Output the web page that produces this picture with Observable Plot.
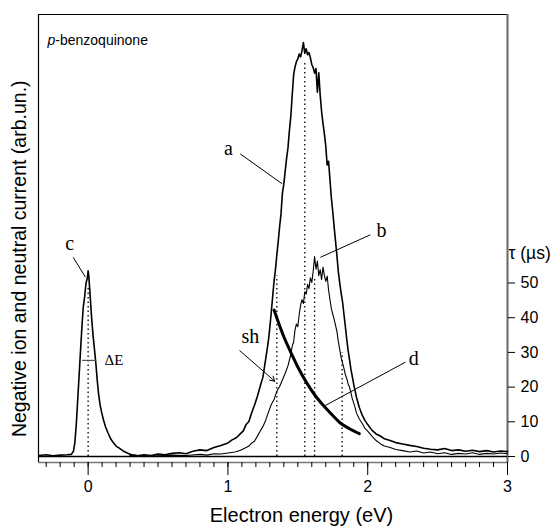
<!DOCTYPE html>
<html><head><meta charset="utf-8">
<script src="https://cdn.jsdelivr.net/npm/d3@7"></script>
<script src="https://cdn.jsdelivr.net/npm/@observablehq/plot@0.6"></script>
<style>body{margin:0;background:#fff}</style>
</head><body><div id="chart"></div>
<script>
// curve c (electron beam profile, arb. units)
const cE = [-0.35,-0.3,-0.25,-0.2,-0.15,-0.12,-0.105,-0.095,-0.085,-0.075,-0.065,-0.055,-0.045,-0.035,-0.025,-0.015,-0.005,0.0,0.005,0.015,0.025,0.035,0.045,0.055,0.065,0.075,0.085,0.095,0.11,0.125,0.14,0.16,0.18,0.2,0.22,0.25,0.28,0.31,0.35,0.4,0.5];
const cV = [0.3,0.5,0.2,0.4,0.5,0.6,1.5,4,9,16,23,30,37,43,46,50,51.5,53.5,52,46,40,35,31,27,22,18,15,13,10.5,8.5,7,5.2,4,3,2.5,1.6,1,0.5,0.3,0.2,0.1];
// curve a (negative ion current)
const aE = [0.30,0.35,0.40,0.45,0.50,0.55,0.60,0.65,0.70,0.75,0.80,0.85,0.90,0.95,1.00,1.03,1.06,1.09,1.11,1.13,1.15,1.17,1.19,1.21,1.23,1.25,1.27,1.29,1.30,1.31,1.32,1.33,1.34,1.35,1.36,1.37,1.38,1.39,1.40,1.41,1.42,1.43,1.44,1.45,1.46,1.47,1.48,1.49,1.50,1.51,1.52,1.53,1.54,1.55,1.56,1.57,1.58,1.59,1.60,1.61,1.62,1.63,1.64,1.65,1.66,1.67,1.68,1.69,1.70,1.71,1.72,1.73,1.74,1.75,1.76,1.77,1.78,1.79,1.80,1.81,1.82,1.83,1.84,1.85,1.86,1.87,1.88,1.89,1.90,1.92,1.94,1.96,1.98,2.00,2.03,2.06,2.09,2.12,2.16,2.20,2.25,2.30,2.35,2.40,2.45,2.50,2.55,2.60,2.65,2.70,2.75,2.80,2.85,2.90,2.95,3.00];
const aV = [0.4,0.2,0.5,0.3,0.7,0.5,0.9,1.1,0.8,1.5,1.9,1.7,2.6,3.2,3.9,4.8,5.4,6.6,7.4,9.2,10.1,12.6,14.8,17.2,20.1,22.8,28.1,33.5,37.2,41.5,46.0,50.5,53.8,58.2,62.0,66.3,70.0,76.0,78.5,82.4,86.0,89.1,94.0,98.1,104.2,110.0,112.3,113.8,114.6,116.0,115.2,117.0,119.3,116.2,117.5,115.8,116.4,114.9,113.0,112.1,110.5,111.8,105.0,110.6,104.2,99.5,96.0,93.0,89.5,84.0,85.1,79.8,74.5,70.6,66.1,62.0,57.8,53.2,50.0,47.1,44.6,41.0,37.5,33.8,30.5,27.9,25.1,23.0,20.8,17.0,14.1,12.0,10.4,9.2,7.6,6.5,5.9,5.1,4.6,4.0,3.6,3.2,2.9,2.4,2.1,1.9,2.3,1.7,1.9,1.5,1.8,1.4,1.7,1.3,1.6,1.4];
// curve b (neutral current)
const bE = [0.50,0.60,0.70,0.80,0.85,0.90,0.95,1.00,1.05,1.09,1.12,1.15,1.17,1.19,1.21,1.23,1.25,1.27,1.29,1.31,1.33,1.35,1.37,1.39,1.41,1.43,1.45,1.46,1.47,1.48,1.49,1.50,1.51,1.52,1.53,1.54,1.55,1.56,1.57,1.58,1.59,1.60,1.61,1.62,1.63,1.64,1.65,1.66,1.67,1.68,1.69,1.70,1.71,1.72,1.73,1.74,1.75,1.76,1.77,1.78,1.79,1.80,1.81,1.82,1.83,1.84,1.85,1.86,1.87,1.88,1.89,1.90,1.91,1.92,1.94,1.96,1.98,2.00,2.03,2.06,2.09,2.12,2.16,2.20,2.25,2.30,2.35,2.40,2.45,2.50,2.55,2.60,2.65,2.70,2.75,2.80,2.85,2.90,2.95,3.00];
const bV = [0.2,0.4,0.3,0.6,0.4,0.8,0.7,1.0,1.3,1.8,2.4,3.0,3.9,4.4,5.8,7.3,8.6,10.4,12.8,15.0,16.4,18.8,20.2,22.1,24.0,26.2,29.4,31.8,33.0,36.5,38.2,37.4,41.0,43.6,45.2,44.1,47.5,46.8,49.6,48.4,51.5,50.2,53.4,57.6,54.0,56.3,52.1,53.9,51.0,54.6,52.2,50.5,52.0,48.0,45.2,42.6,41.0,39.5,37.8,36.0,33.1,30.8,28.5,27.0,25.4,23.6,22.5,20.9,20.0,18.4,16.6,15.4,14.1,12.5,10.8,9.6,8.1,7.3,5.9,4.6,3.7,3.0,2.6,2.0,1.7,1.3,1.6,1.0,1.3,0.8,1.1,0.6,0.9,0.7,1.1,0.6,0.9,0.7,1.0,0.8];
// curve d (lifetime tau, microseconds)
const dE = [1.33,1.40,1.45,1.50,1.567,1.62,1.685,1.75,1.80,1.87,1.94];
const dT = [42.2,34.5,30.0,25.8,21.0,17.8,14.6,11.8,9.8,8.0,6.6];
// dotted markers
const dotE = [0,1.35,1.55,1.62,1.817];
const dotTop = [48.8,52,114,51.7,30];
// ticks
const xMajor = [0,1,2,3];
const xMinor = d3.range(-3,31).map(i => i/10);
const tauTicks = [0,10,20,30,40,50];
// annotations
const labText = ["a","b","c","d","sh"];
const labE = [1.004,2.098,-0.132,2.329,1.16];
const labT = [88.8,65.1,61.5,28.2,34.6];
const leadE1 = [1.089,2.019,-0.107,2.270];
const leadT1 = [87.2,63.9,57.4,27.2];
const leadE2 = [1.388,1.661,-0.019,1.697];
const leadT2 = [78.6,57.4,51.7,14.7];
const shArrow = {e1:1.085, t1:30.5, e2:1.335, t2:21.7};
const dEbar = {e1:-0.043, e2:0.055, t:27.7, labelE:0.117};

const zip = (xs, ys) => xs.map((x,i) => ({x, y: ys[i]}));
const leaders = leadE1.map((e,i) => ({x1:e, y1:leadT1[i], x2:leadE2[i], y2:leadT2[i]}));
const labels = labText.map((t,i) => ({t, x:labE[i], y:labT[i]}));
const dots = dotE.map((e,i) => ({x:e, y:dotTop[i]}));

const X0 = -0.355, X1 = 3.0, Y0 = -1.73, Y1 = 127.4;
const serif = "Liberation Serif, Times New Roman, serif";

const chart = Plot.plot({
  width: 560, height: 527,
  marginLeft: 38, marginRight: 53, marginTop: 14, marginBottom: 65,
  x: {domain: [X0, X1], label: null},
  y: {domain: [Y0, Y1], label: null},
  style: {fontFamily: "Liberation Sans, Arial, sans-serif", background: "white", color: "black"},
  marks: [
    Plot.ruleY([Y1], {stroke: "black", strokeWidth: 1.2}),
    Plot.ruleX([X0], {stroke: "black", strokeWidth: 1.2}),
    Plot.ruleX([X1], {stroke: "#666", strokeWidth: 2}),
    Plot.ruleY([Y0], {stroke: "#777", strokeWidth: 1.5}),
    Plot.ruleY([0], {stroke: "black", strokeWidth: 1.5}),
    Plot.axisX(xMinor, {tickSize: 5, tickFormat: () => "", label: null}),
    Plot.axisX(xMajor, {tickSize: 13, tickPadding: 5, fontSize: 16, tickFormat: d => String(d), label: null}),
    Plot.axisY(tauTicks, {anchor: "right", tickSize: 7, tickPadding: 6, fontSize: 16, tickFormat: d => String(d), label: null}),
    Plot.text(["τ (µs)"], {x: X1, y: 58.5, dx: 1, textAnchor: "start", fontSize: 17.5}),
    Plot.text(["Electron energy (eV)"], {x: 1.526, frameAnchor: "bottom", lineAnchor: "middle", dy: 53, fontSize: 20}),
    Plot.text(["Negative ion and neutral current (arb.un.)"], {x: X0, y: 57, textAnchor: "middle", lineAnchor: "middle", rotate: -90, dx: -19, fontSize: 19.5}),
    Plot.text(["p-benzoquinone"], {frameAnchor: "top-left", lineAnchor: "middle", textAnchor: "start", dx: 9, dy: 26, fontSize: 14}),
    Plot.ruleX(dots, {x: "x", y1: 0, y2: "y", stroke: "black", strokeWidth: 1.3, strokeDasharray: "1.5,3"}),
    Plot.line(zip(cE, cV), {x: "x", y: "y", stroke: "black", strokeWidth: 1.6}),
    Plot.line(zip(bE, bV), {x: "x", y: "y", stroke: "black", strokeWidth: 1.1}),
    Plot.line(zip(aE, aV), {x: "x", y: "y", stroke: "black", strokeWidth: 1.6}),
    Plot.line(zip(dE, dT), {x: "x", y: "y", stroke: "black", strokeWidth: 3, curve: "monotone-x"}),
    Plot.link(leaders, {x1: "x1", y1: "y1", x2: "x2", y2: "y2", stroke: "black", strokeWidth: 1}),
    Plot.arrow([shArrow], {x1: "e1", y1: "t1", x2: "e2", y2: "t2", stroke: "black", strokeWidth: 1, headLength: 8}),
    Plot.link([dEbar], {x1: "e1", x2: "e2", y1: "t", y2: "t", stroke: "#555", strokeWidth: 1.2}),
    Plot.text([dEbar], {x: "labelE", y: "t", text: () => "ΔE", textAnchor: "start", fontFamily: serif, fontSize: 15}),
    Plot.text(labels, {x: "x", y: "y", text: "t", fontFamily: serif, fontSize: 20})
  ]
});
document.getElementById("chart").appendChild(chart);
chart.querySelectorAll("text").forEach(t => {
  if (t.textContent === "p-benzoquinone") {
    t.innerHTML = '<tspan font-style="italic">p</tspan>-benzoquinone';
  }
});
</script>
</body></html>
